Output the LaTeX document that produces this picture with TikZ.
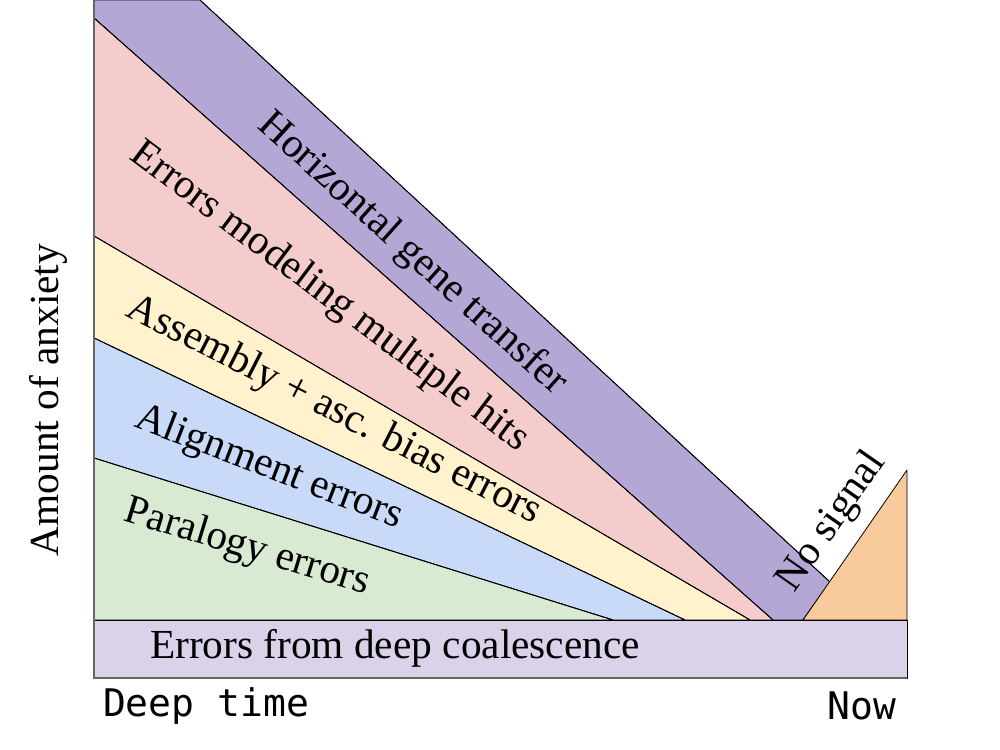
\documentclass[tikz,border=0pt]{standalone}
\usepackage{fontspec}
\setmainfont{Liberation Serif}
\setmonofont{DejaVu Sans Mono}
\usepackage{xcolor}

\definecolor{hgtpurple}{HTML}{B4A7D6}
\definecolor{hitspink}{HTML}{F4CCCC}
\definecolor{asmyellow}{HTML}{FFF2CC}
\definecolor{alnblue}{HTML}{C9DAF8}
\definecolor{paragreen}{HTML}{D9EAD3}
\definecolor{nosigorange}{HTML}{F9CB9C}
\definecolor{coallilac}{HTML}{D9D2E9}

\begin{document}
\begin{tikzpicture}[
    x=0.75pt, y=-0.75pt,
    band/.style={draw=black, line width=0.6pt, line join=round},
    lbl/.style={font=\fontsize{31}{35}\selectfont, inner sep=0pt},
    axislbl/.style={font=\fontsize{28.5}{32}\selectfont\ttfamily, inner sep=0pt}
]
   \useasboundingbox (0,0) rectangle (1000,750);

   % Bands
   \fill[band, fill=hgtpurple] (94,0) -- (200,0) -- (830,582) -- (803,620) -- (773,620) -- (94,18) -- cycle;
   \fill[band, fill=hitspink] (94,18) -- (773,620) -- (750,620) -- (94,236) -- cycle;
   \fill[band, fill=asmyellow] (94,236) -- (750,620) -- (685,620) -- (94,338) -- cycle;
   \fill[band, fill=alnblue] (94,338) -- (685,620) -- (613,620) -- (94,458) -- cycle;
   \fill[band, fill=paragreen] (94,458) -- (613,620) -- (94,620) -- cycle;
   \draw[band] (94,18) -- (773,620) (94,236) -- (750,620) (94,338) -- (685,620) (94,458) -- (613,620) (200,0) -- (830,582) -- (803,620);
   \filldraw[band, fill=nosigorange] (803,620) -- (907,470) -- (907,620) -- cycle;
   \filldraw[band, fill=coallilac] (94,620) rectangle (907,678);
   \draw[black!60, line width=1.5pt] (94,0) -- (94,678) -- (907,678);

   % Labels
   \node[lbl, rotate=-42] (hgt) at (412,254) {Horizontal gene transfer};
   \node[lbl, rotate=-37] (hits) at (329,297) {Errors modeling multiple hits};
   \node[lbl, rotate=-27] (asm) at (334,411) {Assembly + asc. bias errors};
   \node[lbl, rotate=-21] (aln) at (269,468) {Alignment errors};
   \node[lbl, rotate=-17] (para) at (247,548) {Paralogy errors};
   \node[lbl, rotate=55] (nosig) at (832,522) {No signal};
   \node[lbl] (coal) at (395,648) {Errors from deep coalescence};
   \node[lbl, rotate=90] (anx) at (48,400) {Amount of anxiety};
   \node[axislbl] (deep) at (206,706) {Deep time};
   \node[axislbl] (now) at (862,706) {Now};
\end{tikzpicture}
\end{document}
